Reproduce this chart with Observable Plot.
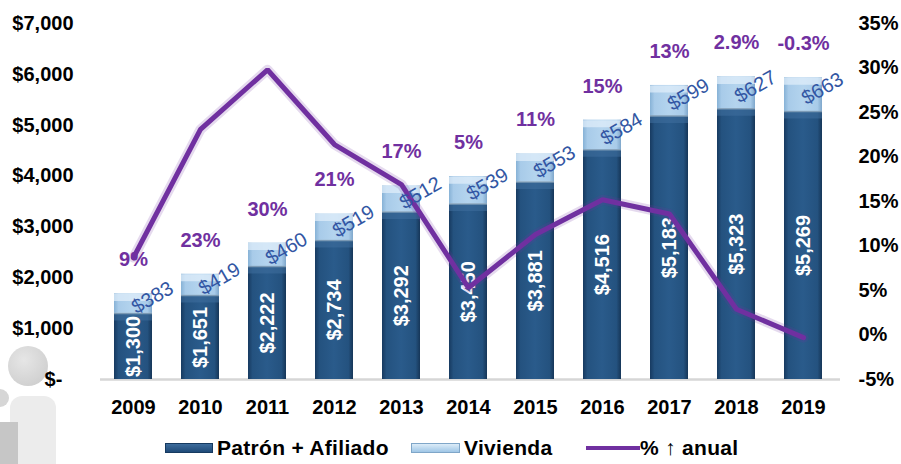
<!DOCTYPE html>
<html>
<head>
<meta charset="utf-8">
<script src="https://cdn.jsdelivr.net/npm/d3@7"></script>
<script src="https://cdn.jsdelivr.net/npm/@observablehq/plot@0.6"></script>
<style>
  html, body { margin: 0; padding: 0; background: #fff; }
  #wrap { position: relative; width: 901px; height: 464px; overflow: hidden; font-family: "Liberation Sans", Arial, sans-serif; }
  #deco { position: absolute; left: 0; top: 0; }
  #chart { position: absolute; left: 0; top: 0; }
  .lg { position: absolute; top: 436px; height: 24px; line-height: 24px; font-weight: bold; font-size: 21px; color: #000; white-space: nowrap; letter-spacing: 0.3px; }
  .sw { position: absolute; }
</style>
</head>
<body>
<div id="wrap">
  <svg id="deco" width="901" height="464">
    <defs>
      <radialGradient id="dg" cx="40%" cy="35%" r="70%">
        <stop offset="0%" stop-color="#e6e6e6"/><stop offset="100%" stop-color="#cfcfcf"/>
      </radialGradient>
    </defs>
    <circle cx="28" cy="366" r="20" fill="url(#dg)"/>
    <circle cx="0" cy="398" r="9" fill="#d6d6d6"/>
    <rect x="10" y="396" width="46" height="90" rx="12" fill="#ececec"/>
    <rect x="0" y="422" width="18" height="50" fill="#c6c6c6"/>
  </svg>
  <div id="chart"></div>
  <div class="sw" style="left:165px;top:443px;width:48px;height:10px;background:linear-gradient(#3d6c9c,#1f4a78);border:1px solid #163a60;box-sizing:border-box;"></div>
  <div class="lg" style="left:217px;">Patrón + Afiliado</div>
  <div class="sw" style="left:411px;top:443px;width:49px;height:10px;background:linear-gradient(#dcecf8,#9fc6e6);border:1px solid #7fa6c8;box-sizing:border-box;"></div>
  <div class="lg" style="left:464px;">Vivienda</div>
  <div class="sw" style="left:586px;top:446px;width:54px;height:4px;background:#7030A0;"></div>
  <div class="lg" style="left:640px;">% ↑ anual</div>
</div>
<script>
const years = ["2009","2010","2011","2012","2013","2014","2015","2016","2017","2018","2019"];
const patron = [1300, 1651, 2222, 2734, 3292, 3450, 3881, 4516, 5183, 5323, 5269];
const vivienda = [383, 419, 460, 519, 512, 539, 553, 584, 599, 627, 663];
const anual = [8.7, 23.1, 29.8, 21.4, 16.9, 5.3, 11.3, 15.2, 13.6, 2.9, -0.3];
const anualLabels = ["9%","23%","30%","21%","17%","5%","11%","15%","13%","2.9%","-0.3%"];
const leftTicks = [0, 1000, 2000, 3000, 4000, 5000, 6000, 7000];
const rightTicks = [-5, 0, 5, 10, 15, 20, 25, 30, 35];

// secondary axis mapping: -5% .. 35%  <->  $0 .. $7,000
const pctToY = p => (p + 5) / 40 * 7000;
const yToPct = v => Math.round(v / 7000 * 40 - 5);

const rows = years.map((y, i) => ({
  year: y,
  patron: patron[i],
  vivienda: vivienda[i],
  total: patron[i] + vivienda[i],
  pct: anual[i],
  pctY: pctToY(anual[i]),
  pctLabel: anualLabels[i]
}));

const fmt = d3.format(",");
const font = "Liberation Sans, Arial, sans-serif";

function defs() {
  const ns = "http://www.w3.org/2000/svg";
  const d = document.createElementNS(ns, "defs");
  d.innerHTML = `
    <linearGradient id="darkG" x1="0" x2="1" y1="0" y2="0">
      <stop offset="0%" stop-color="#173a60"/>
      <stop offset="12%" stop-color="#24527f"/>
      <stop offset="50%" stop-color="#2a5b8b"/>
      <stop offset="88%" stop-color="#24527f"/>
      <stop offset="100%" stop-color="#163658"/>
    </linearGradient>
    <linearGradient id="lightG" x1="0" x2="1" y1="0" y2="0">
      <stop offset="0%" stop-color="#87b2d6"/>
      <stop offset="12%" stop-color="#a8cbe9"/>
      <stop offset="50%" stop-color="#b4d4ee"/>
      <stop offset="88%" stop-color="#a8cbe9"/>
      <stop offset="100%" stop-color="#7fa7cb"/>
    </linearGradient>`;
  return d;
}

const chart = Plot.plot({
  width: 901,
  height: 430,
  marginTop: 23,
  marginBottom: 51,
  marginLeft: 85,
  marginRight: 49,
  style: { background: "transparent", fontFamily: font, overflow: "visible" },
  x: { type: "band", domain: years, padding: 0.43, label: null },
  y: { domain: [0, 7000], label: null },
  marks: [
    defs,
    Plot.ruleY([0], { stroke: "#d6d6d6", strokeWidth: 2.5, insetLeft: 15, insetRight: 12 }),
    Plot.barY(rows, { x: "year", y1: 0, y2: "patron", fill: "url(#darkG)" }),
    Plot.barY(rows, { x: "year", y1: "patron", y2: "total", fill: "url(#lightG)" }),
    Plot.tickY(rows, { x: "year", y: "patron", stroke: "#3f6f9f", strokeWidth: 7, dy: 3.5, strokeOpacity: 0.55 }),
    Plot.tickY(rows, { x: "year", y: "total", stroke: "#e2f0fb", strokeWidth: 7, dy: 3.5, strokeOpacity: 0.7 }),
    Plot.tickY(rows, { x: "year", y: "patron", stroke: "#8fa9bf", strokeWidth: 1.5, strokeOpacity: 0.8 }),
    Plot.text(rows, {
      x: "year", y: d => d.patron / 2, text: d => "$" + fmt(d.patron),
      rotate: -90, fill: "white", fontSize: 20, fontWeight: "bold"
    }),
    Plot.line(rows, { x: "year", y: "pctY", stroke: "#7030A0", strokeWidth: 10, strokeOpacity: 0.18, strokeLinejoin: "round" }),
    Plot.line(rows, { x: "year", y: "pctY", stroke: "#7030A0", strokeWidth: 5, strokeLinejoin: "miter" }),
    Plot.text(rows, {
      x: "year", y: d => d.patron + d.vivienda / 2, text: d => "$" + fmt(d.vivienda),
      rotate: -30, fill: "#3256a3", fontSize: 20, dx: 19, dy: -6
    }),
    Plot.text(rows, {
      x: "year", y: "total", text: "pctLabel", dy: -34,
      fill: "#7030A0", fontSize: 20, fontWeight: "bold"
    }),
    Plot.axisY({
      anchor: "left", ticks: leftTicks, tickSize: 0, tickPadding: 12,
      tickFormat: v => v === 0 ? "$-\u2007" : "$" + fmt(v),
      fontSize: 20, fontWeight: "bold", fill: "#000"
    }),
    Plot.axisY({
      anchor: "right", ticks: rightTicks.map(pctToY), tickSize: 0, tickPadding: 6,
      tickFormat: v => yToPct(v) + "%",
      fontSize: 20, fontWeight: "bold", fill: "#000"
    }),
    Plot.axisX({
      anchor: "bottom", tickSize: 0, tickPadding: 20,
      fontSize: 20, fontWeight: "bold", fill: "#000"
    })
  ]
});
document.getElementById("chart").appendChild(chart);
</script>
</body>
</html>
